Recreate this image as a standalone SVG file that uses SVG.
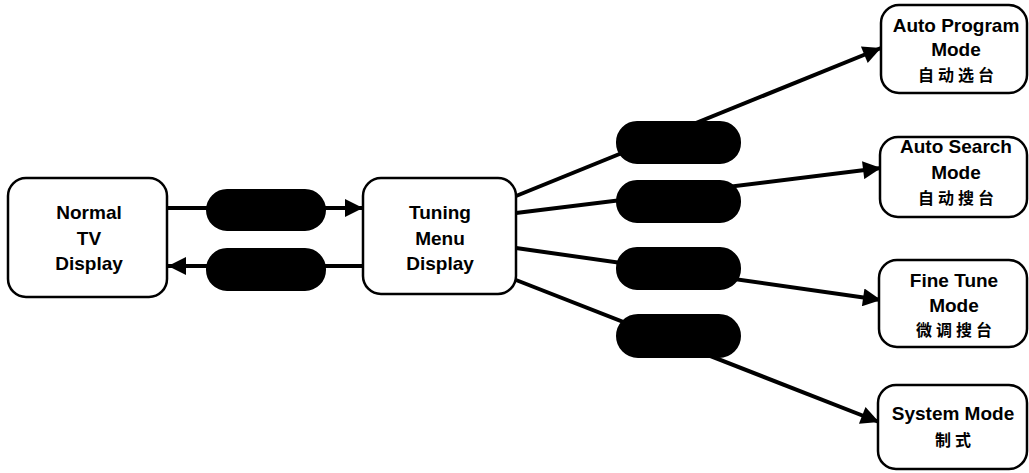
<svg xmlns="http://www.w3.org/2000/svg" width="1029" height="473" viewBox="0 0 1029 473">
<defs>
<style>
.box{fill:#fff;stroke:#000;stroke-width:2.5}
.pill{fill:#000;stroke:#000;stroke-width:2}
.t{font-family:"Liberation Sans",Arial,sans-serif;font-size:19px;font-weight:bold;text-anchor:middle;fill:#000}
.c{font-family:"Liberation Sans","Noto Sans CJK SC",sans-serif;font-size:16px;font-weight:bold;text-anchor:middle;fill:#000;letter-spacing:4px}
.ln{stroke:#000;stroke-width:4;fill:none}
</style>
<marker id="ah" viewBox="0 0 10 10" refX="10" refY="5" markerWidth="5.5" markerHeight="4.5" orient="auto" markerUnits="strokeWidth">
<path d="M0,0 L10,5 L0,10 z" fill="#000"/>
</marker>
</defs>
<rect width="1029" height="473" fill="#fff"/>
<g id="connectors">
<line class="ln" x1="167" y1="208" x2="363" y2="208" marker-end="url(#ah)"/>
<line class="ln" x1="363" y1="266" x2="168" y2="266" marker-end="url(#ah)"/>
<line class="ln" x1="516" y1="196" x2="881" y2="48" marker-end="url(#ah)"/>
<line class="ln" x1="516" y1="213" x2="881" y2="168" marker-end="url(#ah)"/>
<line class="ln" x1="516" y1="248" x2="881" y2="300" marker-end="url(#ah)"/>
<line class="ln" x1="516" y1="280" x2="879" y2="422" marker-end="url(#ah)"/>
</g>
<g id="pill-left-1"><rect class="pill" x="207" y="190" width="118" height="40" rx="20"/></g>
<g id="pill-left-2"><rect class="pill" x="207" y="249" width="118" height="41" rx="20"/></g>
<g id="pill-right-1"><rect class="pill" x="617" y="122" width="123" height="41" rx="20"/></g>
<g id="pill-right-2"><rect class="pill" x="617" y="181" width="123" height="41" rx="20"/></g>
<g id="pill-right-3"><rect class="pill" x="617" y="248" width="123" height="41" rx="20"/></g>
<g id="pill-right-4"><rect class="pill" x="617" y="315" width="123" height="42" rx="21"/></g>
<g id="normal-tv">
<rect class="box" x="8" y="178" width="159" height="119" rx="18"/>
<text class="t" x="89" y="219">Normal</text>
<text class="t" x="89" y="245">TV</text>
<text class="t" x="89" y="270">Display</text>
</g>
<g id="tuning-menu">
<rect class="box" x="363" y="178" width="153" height="116" rx="18"/>
<text class="t" x="440" y="219">Tuning</text>
<text class="t" x="440" y="245">Menu</text>
<text class="t" x="440" y="270">Display</text>
</g>
<g id="auto-program">
<rect class="box" x="881" y="5" width="146" height="88" rx="18"/>
<text class="t" x="956" y="32">Auto Program</text>
<text class="t" x="956" y="56">Mode</text>
<text class="c" x="958" y="81">自动选台</text>
</g>
<g id="auto-search">
<rect class="box" x="880" y="137" width="147" height="80" rx="18"/>
<text class="t" x="956" y="153">Auto Search</text>
<text class="t" x="956" y="179">Mode</text>
<text class="c" x="958" y="204">自动搜台</text>
</g>
<g id="fine-tune">
<rect class="box" x="879" y="260" width="148" height="87" rx="18"/>
<text class="t" x="954" y="287">Fine Tune</text>
<text class="t" x="954" y="312">Mode</text>
<text class="c" x="956" y="336">微调搜台</text>
</g>
<g id="system-mode">
<rect class="box" x="878" y="385" width="149" height="84" rx="18"/>
<text class="t" x="953" y="420">System Mode</text>
<text class="c" x="955" y="446">制式</text>
</g>
</svg>
